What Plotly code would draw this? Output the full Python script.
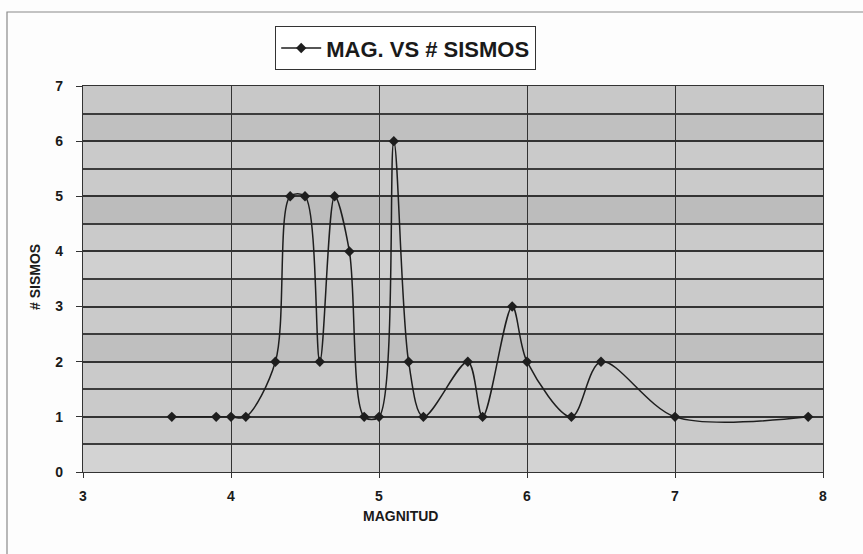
import plotly.graph_objects as go

magnitud = [3.6, 3.9, 4.0, 4.1, 4.3, 4.4, 4.5, 4.6, 4.7, 4.8, 4.9, 5.0, 5.1, 5.2, 5.3,
            5.6, 5.7, 5.9, 6.0, 6.3, 6.5, 7.0, 7.9]
sismos = [1, 1, 1, 1, 2, 5, 5, 2, 5, 4, 1, 1, 6, 2, 1,
          2, 1, 3, 2, 1, 2, 1, 1]
x_ticks = [3, 4, 5, 6, 7, 8]
y_ticks = [0, 1, 2, 3, 4, 5, 6, 7]

W, H = 863, 554
L, R, T, B = 83, 823, 86, 472

def px(x):
    return (x - L) / (R - L)

def py(y):
    return (B - y) / (B - T)

fig = go.Figure()
fig.add_trace(go.Scatter(
    x=magnitud, y=sismos, mode="lines+markers",
    name="MAG. VS # SISMOS",
    line=dict(color="#1e1e1e", width=1.5, shape="spline", smoothing=0.9),
    marker=dict(symbol="diamond", size=8, color="#1e1e1e"),
))

shapes = []
# textured-looking background bands (subtle)
bands = [(6.0, 6.5, "#c0c0c0"), (4.5, 5.0, "#bcbcbc"), (2.0, 2.5, "#bfbfbf"),
         (3.5, 4.0, "#d0d0d0"), (0.0, 0.5, "#d3d3d3"), (6.5, 7.0, "#c8c8c8")]
for y0, y1, c in bands:
    shapes.append(dict(type="rect", xref="x", yref="y", x0=3, x1=8, y0=y0, y1=y1,
                       fillcolor=c, line=dict(width=0), layer="below"))
# outer chart frame
shapes.append(dict(type="rect", xref="paper", yref="paper",
                   x0=px(7), x1=px(870), y0=py(570), y1=py(12),
                   line=dict(color="#8a8a8a", width=1.2), fillcolor="rgba(0,0,0,0)"))

fig.update_layout(
    width=W, height=H,
    margin=dict(l=L, r=W - R, t=T, b=H - B, autoexpand=False),
    paper_bgcolor="#fdfdfd",
    plot_bgcolor="#cacaca",
    font=dict(family="Arial, Liberation Sans, sans-serif", color="#1a1a1a"),
    showlegend=True,
    legend=dict(
        x=px(275), y=py(26), xanchor="left", yanchor="top",
        bgcolor="#ffffff", bordercolor="#333333", borderwidth=1.2,
        font=dict(size=22, family="Arial, Liberation Sans, sans-serif", color="#1a1a1a", weight="bold"),
        itemwidth=40,
    ),
    shapes=shapes,
    annotations=[
        dict(text="<b>MAGNITUD</b>", xref="paper", yref="paper", x=px(400), y=py(516),
             showarrow=False, font=dict(size=14), xanchor="center", yanchor="middle"),
        dict(text="<b># SISMOS</b>", xref="paper", yref="paper", x=px(35), y=py(277),
             showarrow=False, font=dict(size=14), textangle=-90,
             xanchor="center", yanchor="middle"),
    ],
    xaxis=dict(
        range=[3, 8], tickvals=x_ticks, ticktext=[str(v) for v in x_ticks],
        showgrid=True, gridcolor="#333333", gridwidth=1.2,
        showline=True, linecolor="#333333", linewidth=1.3, mirror=True,
        ticks="outside", ticklen=5, tickcolor="#333333",
        tickfont=dict(size=14, weight="bold"), ticklabelstandoff=6,
        zeroline=False,
    ),
    yaxis=dict(
        range=[0, 7], tickvals=y_ticks, ticktext=[str(v) for v in y_ticks],
        showgrid=True, gridcolor="#333333", gridwidth=1.5,
        minor=dict(dtick=0.5, showgrid=True, gridcolor="#3c3c3c", gridwidth=1.5, ticks=""),
        showline=True, linecolor="#333333", linewidth=1.3, mirror=True,
        ticks="outside", ticklen=6, tickcolor="#333333",
        tickfont=dict(size=14, weight="bold"), ticklabelstandoff=10,
        zeroline=False,
    ),
)

fig.write_html("out.html")
